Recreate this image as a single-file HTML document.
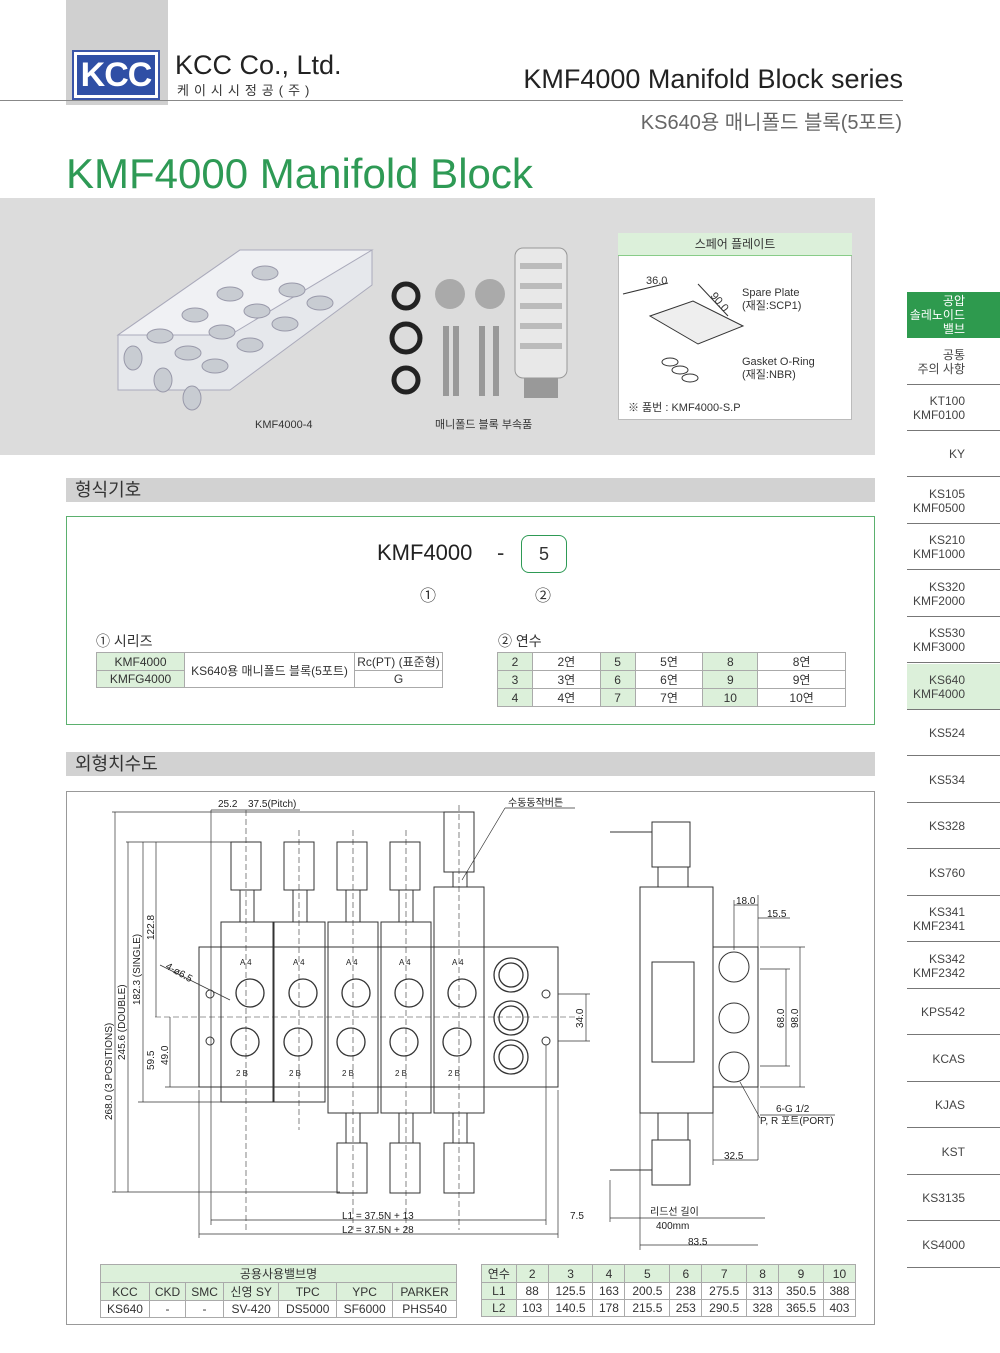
<!DOCTYPE html>
<html><head><meta charset="utf-8"><style>
*{margin:0;padding:0;box-sizing:border-box}
body{width:1000px;height:1353px;background:#fff;position:relative;overflow:hidden;font-family:"Liberation Sans","Noto Sans CJK KR",sans-serif;color:#333}
.a{position:absolute}
.sb{position:absolute;left:907px;width:93px;height:46px;border-bottom:1px solid #777;text-align:right;padding-right:35px;font-size:12px;line-height:14px;display:flex;flex-direction:column;justify-content:center;align-items:flex-end;color:#444}
.sec{position:absolute;left:66px;width:809px;height:24px;background:#d2d2d2;font-size:18px;line-height:24px;padding-left:9px;color:#333}
table{border-collapse:collapse;font-size:12px;color:#333}
td{border:1px solid #aaa;text-align:center;height:17px;padding:0 2px}
.g{background:#dcf0da}
</style></head><body>
<div class="a" style="left:66px;top:0;width:102px;height:105px;background:#d0d0d0"></div>
<div class="a" style="left:72px;top:50px;width:88px;height:50px;background:#fff;border:2px solid #3a55a8"></div>
<div class="a" style="left:77px;top:55px;width:78px;height:40px;background:#2f4fa5;color:#fff;font-weight:bold;font-size:34px;line-height:40px;text-align:center;letter-spacing:-1px">KCC</div>
<div class="a" style="left:175px;top:50px;font-size:27px;color:#222">KCC Co., Ltd.</div>
<div class="a" style="left:177px;top:80px;font-size:13px;letter-spacing:5px;color:#333">케이시시정공(주)</div>
<div class="a" style="left:0;top:100px;width:903px;height:1px;background:#888"></div>
<div class="a" style="right:97px;top:64px;font-size:27px;color:#222">KMF4000 Manifold Block series</div>
<div class="a" style="right:98px;top:106px;font-size:20px;color:#666">KS640용 매니폴드 블록(5포트)</div>
<div class="a" style="left:66px;top:150px;font-size:42px;color:#2e9a55">KMF4000 Manifold Block</div>

<div class="a" style="left:0;top:198px;width:875px;height:257px;background:#dcdcdc"></div>
<svg class="a" style="left:0;top:198px" width="875" height="257">
 <polygon points="118,335 240,250 372,250 372,285 230,390 118,390" transform="translate(0,-198)" fill="#e6e8ec" stroke="#aab" />
 <polygon points="118,335 230,335 372,250 240,250" transform="translate(0,-198)" fill="#f0f1f4" stroke="#aab"/>
 <g fill="#c8ccd2" stroke="#99a">
 <ellipse cx="265" cy="75" rx="13" ry="7"/><ellipse cx="230" cy="96" rx="13" ry="7"/><ellipse cx="195" cy="117" rx="13" ry="7"/><ellipse cx="160" cy="138" rx="13" ry="7"/>
 <ellipse cx="292" cy="92" rx="13" ry="7"/><ellipse cx="257" cy="113" rx="13" ry="7"/><ellipse cx="222" cy="134" rx="13" ry="7"/><ellipse cx="188" cy="155" rx="13" ry="7"/>
 <ellipse cx="320" cy="105" rx="13" ry="7"/><ellipse cx="285" cy="126" rx="13" ry="7"/><ellipse cx="250" cy="147" rx="13" ry="7"/><ellipse cx="215" cy="168" rx="13" ry="7"/>
 <ellipse cx="133" cy="160" rx="9" ry="12"/><ellipse cx="163" cy="182" rx="9" ry="12"/><ellipse cx="192" cy="200" rx="9" ry="12"/>
 </g>
 <g fill="none" stroke="#222" stroke-width="5"><circle cx="406" cy="98" r="12"/><circle cx="406" cy="140" r="14"/><circle cx="406" cy="182" r="12"/></g>
 <circle cx="450" cy="96" r="15" fill="#aaa"/><circle cx="490" cy="96" r="15" fill="#aaa"/>
 <g fill="#999"><rect x="443" y="128" width="6" height="70"/><rect x="453" y="128" width="6" height="70"/><rect x="479" y="128" width="6" height="70"/><rect x="493" y="128" width="6" height="70"/></g>
 <rect x="515" y="50" width="52" height="130" rx="8" fill="#e8e8e8" stroke="#999"/>
 <g fill="#bbb"><rect x="520" y="65" width="42" height="6"/><rect x="520" y="85" width="42" height="6"/><rect x="520" y="105" width="42" height="6"/><rect x="520" y="125" width="42" height="6"/><rect x="520" y="145" width="42" height="6"/></g>
 <rect x="524" y="180" width="34" height="20" fill="#999"/>
 <text x="255" y="230" font-size="11" fill="#333" font-family="Liberation Sans,Noto Sans CJK KR,sans-serif">KMF4000-4</text>
 <text x="435" y="230" font-size="11" fill="#333" font-family="Liberation Sans,Noto Sans CJK KR,sans-serif">매니폴드 블록 부속품</text>
</svg>
<div class="a" style="left:618px;top:233px;width:234px;height:187px;background:#fff;border:1px solid #bbb"></div>
<div class="a" style="left:618px;top:233px;width:234px;height:23px;background:#dcf0da;border-bottom:1px solid #8c8;font-size:12px;text-align:center;line-height:23px">스페어 플레이트</div>
<svg class="a" style="left:618px;top:256px" width="234" height="164" font-family="Liberation Sans,Noto Sans CJK KR,sans-serif" font-size="11" fill="#333">
 <polygon points="32,60 75,45 125,70 80,88" fill="#eee" stroke="#333"/>
 <line x1="5" y1="38" x2="50" y2="27" stroke="#333"/><text x="28" y="28">36.0</text>
 <line x1="80" y1="28" x2="110" y2="60" stroke="#333"/><text x="92" y="40" transform="rotate(50 92 40)">90.0</text>
 <text x="124" y="40">Spare Plate</text><text x="124" y="53">(재질:SCP1)</text>
 <g fill="none" stroke="#333"><ellipse cx="52" cy="106" rx="8" ry="4"/><ellipse cx="62" cy="114" rx="8" ry="4"/><ellipse cx="72" cy="122" rx="8" ry="4"/></g>
 <text x="124" y="109">Gasket O-Ring</text><text x="124" y="122">(재질:NBR)</text>
 <text x="10" y="155">※ 품번 : KMF4000-S.P</text>
</svg>

<div class="sec" style="top:478px">형식기호</div>
<div class="a" style="left:66px;top:516px;width:809px;height:209px;border:1px solid #5bb06e"></div>
<div class="a" style="left:377px;top:540px;font-size:22px;color:#222">KMF4000</div>
<div class="a" style="left:497px;top:540px;font-size:22px">-</div>
<div class="a" style="left:521px;top:535px;width:46px;height:38px;border:1.5px solid #2e9a55;border-radius:8px;font-size:18px;text-align:center;line-height:36px">5</div>
<div class="a" style="left:420px;top:582px;font-size:16px">①</div>
<div class="a" style="left:535px;top:582px;font-size:16px">②</div>
<div class="a" style="left:96px;top:631px;font-size:14px">① 시리즈</div>
<div class="a" style="left:498px;top:631px;font-size:14px">② 연수</div>
<table class="a" style="left:96px;top:652px;width:347px">
<tr><td class="g" style="width:88px">KMF4000</td><td rowspan="2" style="width:170px">KS640용 매니폴드 블록(5포트)</td><td>Rc(PT) (표준형)</td></tr>
<tr><td class="g">KMFG4000</td><td>G</td></tr></table>
<table class="a" style="left:497px;top:652px;width:349px">
<tr><td class="g">2</td><td>2연</td><td class="g">5</td><td>5연</td><td class="g">8</td><td>8연</td></tr>
<tr><td class="g">3</td><td>3연</td><td class="g">6</td><td>6연</td><td class="g">9</td><td>9연</td></tr>
<tr><td class="g">4</td><td>4연</td><td class="g">7</td><td>7연</td><td class="g">10</td><td>10연</td></tr></table>

<div class="sec" style="top:752px">외형치수도</div>
<div class="a" style="left:66px;top:791px;width:809px;height:534px;border:1px solid #999"></div>
<svg class="a" style="left:0;top:0" width="1000" height="1353" font-family="Liberation Sans,Noto Sans CJK KR,sans-serif" font-size="10" fill="#222">
<g stroke="#333" fill="none" stroke-width="1">
 <rect x="199" y="947" width="359" height="140"/>
 <rect x="221" y="922" width="52" height="180"/><rect x="274" y="922" width="51" height="180"/>
 <rect x="328" y="922" width="50" height="191"/><rect x="381" y="922" width="50" height="191"/><rect x="434" y="887" width="50" height="226"/>
 <rect x="231" y="842" width="30" height="48"/><rect x="284" y="842" width="30" height="48"/><rect x="337" y="842" width="30" height="48"/><rect x="390" y="842" width="30" height="48"/><rect x="444" y="812" width="30" height="60"/>
 <rect x="240" y="890" width="14" height="32"/><rect x="293" y="890" width="14" height="32"/><rect x="346" y="890" width="14" height="32"/><rect x="399" y="890" width="14" height="32"/><rect x="453" y="872" width="14" height="15"/>
 <rect x="337" y="1143" width="30" height="50"/><rect x="390" y="1143" width="30" height="50"/><rect x="444" y="1143" width="30" height="50"/>
 <rect x="346" y="1113" width="14" height="30"/><rect x="399" y="1113" width="14" height="30"/><rect x="453" y="1113" width="14" height="30"/>
 <g stroke-width="1.3">
 <circle cx="250" cy="993" r="14"/><circle cx="303" cy="993" r="14"/><circle cx="356" cy="993" r="14"/><circle cx="409" cy="993" r="14"/><circle cx="462" cy="993" r="14"/>
 <circle cx="245" cy="1042" r="14"/><circle cx="298" cy="1042" r="14"/><circle cx="351" cy="1042" r="14"/><circle cx="404" cy="1042" r="14"/><circle cx="457" cy="1042" r="14"/>
 <circle cx="511" cy="975" r="17"/><circle cx="511" cy="975" r="12"/><circle cx="511" cy="1018" r="17"/><circle cx="511" cy="1018" r="12"/><circle cx="511" cy="1057" r="17"/><circle cx="511" cy="1057" r="12"/>
 </g>
 <circle cx="210" cy="994" r="4"/><circle cx="210" cy="1041" r="4"/><circle cx="546" cy="994" r="4"/><circle cx="546" cy="1041" r="4"/>
 <g stroke-dasharray="6,3" stroke-width=".6"><line x1="155" y1="1017" x2="580" y2="1017"/><line x1="246" y1="810" x2="246" y2="1230"/><line x1="299" y1="830" x2="299" y2="1130"/><line x1="353" y1="830" x2="353" y2="1230"/><line x1="406" y1="830" x2="406" y2="1230"/><line x1="459" y1="805" x2="459" y2="1230"/></g>
 <g stroke-width=".7">
 <line x1="112" y1="812" x2="450" y2="812"/><line x1="115" y1="812" x2="115" y2="1192"/>
 <line x1="126" y1="842" x2="240" y2="842"/><line x1="128" y1="842" x2="128" y2="1192"/><line x1="112" y1="1192" x2="340" y2="1192"/>
 <line x1="143" y1="842" x2="143" y2="1102"/><line x1="156" y1="842" x2="156" y2="1017"/><line x1="138" y1="1102" x2="225" y2="1102"/>
 <line x1="170" y1="1017" x2="170" y2="1087"/><line x1="165" y1="1087" x2="200" y2="1087"/>
 <line x1="211" y1="810" x2="211" y2="1225"/><line x1="199" y1="1090" x2="199" y2="1238"/><line x1="558" y1="1090" x2="558" y2="1238"/><line x1="546" y1="1045" x2="546" y2="1225"/>
 <line x1="211" y1="1220" x2="546" y2="1220"/><line x1="199" y1="1234" x2="558" y2="1234"/>
 <line x1="211" y1="810" x2="300" y2="810"/><line x1="558" y1="994" x2="590" y2="994"/><line x1="558" y1="1041" x2="590" y2="1041"/><line x1="586" y1="994" x2="586" y2="1041"/>
 <line x1="160" y1="965" x2="230" y2="1000"/><line x1="462" y1="880" x2="505" y2="808"/><line x1="505" y1="808" x2="575" y2="808"/>
 </g>
 <rect x="640" y="887" width="73" height="226"/><rect x="652" y="822" width="38" height="45"/><rect x="658" y="867" width="30" height="20"/>
 <rect x="652" y="1140" width="38" height="45"/><rect x="658" y="1113" width="30" height="27"/>
 <rect x="652" y="962" width="42" height="100"/><rect x="713" y="947" width="45" height="140"/>
 <circle cx="734" cy="967" r="15"/><circle cx="734" cy="1018" r="15"/><circle cx="734" cy="1067" r="15"/>
 <line x1="610" y1="832" x2="652" y2="832"/><line x1="610" y1="1170" x2="652" y2="1170"/>
 <g stroke-width=".7"><line x1="734" y1="900" x2="734" y2="950"/><line x1="758" y1="895" x2="758" y2="1160"/><line x1="734" y1="905" x2="758" y2="905"/><line x1="758" y1="918" x2="790" y2="918"/>
 <line x1="760" y1="947" x2="805" y2="947"/><line x1="760" y1="1087" x2="805" y2="1087"/><line x1="800" y1="947" x2="800" y2="1087"/>
 <line x1="760" y1="969" x2="790" y2="969"/><line x1="760" y1="1066" x2="790" y2="1066"/><line x1="786" y1="969" x2="786" y2="1066"/>
 <line x1="713" y1="1090" x2="713" y2="1165"/><line x1="713" y1="1160" x2="758" y2="1160"/>
 <line x1="640" y1="1113" x2="640" y2="1250"/><line x1="640" y1="1245" x2="758" y2="1245"/><line x1="610" y1="1180" x2="610" y2="1222"/><line x1="610" y1="1218" x2="765" y2="1218"/>
 <line x1="740" y1="1082" x2="760" y2="1118"/><line x1="760" y1="1115" x2="835" y2="1115"/></g>
</g>
<text x="218" y="807">25.2</text><text x="248" y="807">37.5(Pitch)</text><text x="508" y="806">수동동작버튼</text>
<text x="112" y="1120" transform="rotate(-90 112 1120)">268.0 (3 POSITIONS)</text>
<text x="125" y="1060" transform="rotate(-90 125 1060)">245.6 (DOUBLE)</text>
<text x="140" y="1005" transform="rotate(-90 140 1005)">182.3 (SINGLE)</text>
<text x="154" y="940" transform="rotate(-90 154 940)">122.8</text>
<text x="154" y="1070" transform="rotate(-90 154 1070)">59.5</text>
<text x="168" y="1065" transform="rotate(-90 168 1065)">49.0</text>
<text x="165" y="968" transform="rotate(30 165 968)">4-ø6.5</text>
<text x="583" y="1028" transform="rotate(-90 583 1028)">34.0</text>
<text x="342" y="1219">L1 = 37.5N + 13</text><text x="342" y="1233">L2 = 37.5N + 28</text><text x="570" y="1219">7.5</text>
<text x="736" y="904">18.0</text><text x="767" y="917">15.5</text>
<text x="784" y="1028" transform="rotate(-90 784 1028)">68.0</text><text x="798" y="1028" transform="rotate(-90 798 1028)">98.0</text>
<text x="776" y="1112">6-G 1/2</text><text x="760" y="1124">P, R 포트(PORT)</text><text x="724" y="1159">32.5</text>
<text x="650" y="1215">리드선 길이</text><text x="656" y="1229">400mm</text><text x="688" y="1245">83.5</text>
<g font-size="8"><text x="240" y="965">A 4</text><text x="293" y="965">A 4</text><text x="346" y="965">A 4</text><text x="399" y="965">A 4</text><text x="452" y="965">A 4</text>
<text x="236" y="1076">2 B</text><text x="289" y="1076">2 B</text><text x="342" y="1076">2 B</text><text x="395" y="1076">2 B</text><text x="448" y="1076">2 B</text></g>
</svg>
<table class="a" style="left:100px;top:1264px;width:357px">
<tr><td class="g" colspan="7">공용사용밸브명</td></tr>
<tr><td class="g">KCC</td><td class="g">CKD</td><td class="g">SMC</td><td class="g">신영 SY</td><td class="g">TPC</td><td class="g">YPC</td><td class="g">PARKER</td></tr>
<tr><td>KS640</td><td>-</td><td>-</td><td>SV-420</td><td>DS5000</td><td>SF6000</td><td>PHS540</td></tr></table>
<table class="a" style="left:481px;top:1264px;width:375px">
<tr><td class="g">연수</td><td class="g">2</td><td class="g">3</td><td class="g">4</td><td class="g">5</td><td class="g">6</td><td class="g">7</td><td class="g">8</td><td class="g">9</td><td class="g">10</td></tr>
<tr><td class="g">L1</td><td>88</td><td>125.5</td><td>163</td><td>200.5</td><td>238</td><td>275.5</td><td>313</td><td>350.5</td><td>388</td></tr>
<tr><td class="g">L2</td><td>103</td><td>140.5</td><td>178</td><td>215.5</td><td>253</td><td>290.5</td><td>328</td><td>365.5</td><td>403</td></tr></table>

<div class="sb" style="top:292px;background:#2e9a4e;color:#fff;border:none">공압<br>솔레노이드<br>밸브</div>
<div class="sb" style="top:339px">공통<br>주의 사항</div>
<div class="sb" style="top:385px">KT100<br>KMF0100</div>
<div class="sb" style="top:431px">KY</div>
<div class="sb" style="top:478px">KS105<br>KMF0500</div>
<div class="sb" style="top:524px">KS210<br>KMF1000</div>
<div class="sb" style="top:571px">KS320<br>KMF2000</div>
<div class="sb" style="top:617px">KS530<br>KMF3000</div>
<div class="sb" style="top:664px;background:#dcf0da">KS640<br>KMF4000</div>
<div class="sb" style="top:710px">KS524</div>
<div class="sb" style="top:757px">KS534</div>
<div class="sb" style="top:803px">KS328</div>
<div class="sb" style="top:850px">KS760</div>
<div class="sb" style="top:896px">KS341<br>KMF2341</div>
<div class="sb" style="top:943px">KS342<br>KMF2342</div>
<div class="sb" style="top:989px">KPS542</div>
<div class="sb" style="top:1036px">KCAS</div>
<div class="sb" style="top:1082px">KJAS</div>
<div class="sb" style="top:1129px">KST</div>
<div class="sb" style="top:1175px">KS3135</div>
<div class="sb" style="top:1222px">KS4000</div>
</body></html>
